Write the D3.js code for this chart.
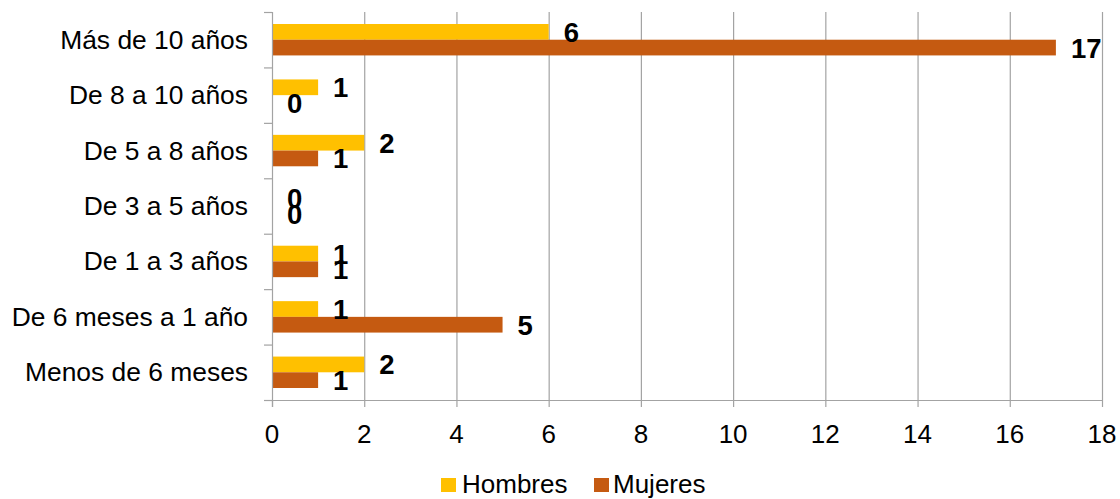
<!DOCTYPE html>
<html>
<head>
<meta charset="utf-8">
<script src="https://cdn.jsdelivr.net/npm/d3@7"></script>
<style>
  html, body { margin: 0; padding: 0; background: #fff; }
  svg { display: block; font-family: "Liberation Sans", Arial, sans-serif; }
</style>
</head>
<body>
<svg id="chart" width="1120" height="499"></svg>
<script>
// Antigüedad por sexo
const categories = [
  "Más de 10 años",
  "De 8 a 10 años",
  "De 5 a 8 años",
  "De 3 a 5 años",
  "De 1 a 3 años",
  "De 6 meses a 1 año",
  "Menos de 6 meses"
];
const hombres = [6, 1, 2, 0, 1, 1, 2];
const mujeres = [17, 0, 1, 0, 1, 5, 1];
const seriesNames = ["Hombres", "Mujeres"];
const seriesColors = ["#FFC000", "#C55A11"];
const xTicks = [0, 2, 4, 6, 8, 10, 12, 14, 16, 18];

const svg = d3.select("#chart");
const plot = { left: 272, right: 1102, top: 12, bottom: 400 };
const gridColor = "#A3A3A3";

const x = d3.scaleLinear().domain([0, 18]).range([plot.left, plot.right]);
const y = d3.scaleBand().domain(categories).range([plot.top, plot.bottom])
  .paddingInner(0.433).paddingOuter(0.2165);
const ySub = d3.scaleBand().domain(seriesNames).range([0, y.bandwidth()]);

// vertical gridlines
svg.append("g").selectAll("line").data(xTicks.slice(1)).join("line")
  .attr("x1", d => x(d) + 0.5).attr("x2", d => x(d) + 0.5)
  .attr("y1", plot.top).attr("y2", plot.bottom)
  .attr("stroke", gridColor).attr("stroke-width", 1.2);

// bars
const rows = categories.map((c, i) => ({ cat: c, vals: [hombres[i], mujeres[i]] }));
const rowG = svg.append("g").selectAll("g").data(rows).join("g")
  .attr("transform", d => `translate(0,${y(d.cat)})`);

rowG.selectAll("rect").data(d => d.vals.map((v, j) => ({ v, s: seriesNames[j], c: seriesColors[j] })))
  .join("rect")
  .attr("x", x(0))
  .attr("y", d => ySub(d.s))
  .attr("width", d => x(d.v) - x(0))
  .attr("height", ySub.bandwidth())
  .attr("fill", d => d.c);

// value labels
rowG.selectAll("text").data(d => d.vals.map((v, j) => ({ v, s: seriesNames[j] })))
  .join("text")
  .attr("x", d => x(d.v) + 15)
  .attr("y", d => ySub(d.s) + ySub.bandwidth() / 2 + 10)
  .attr("font-size", 27.5)
  .attr("font-weight", "bold")
  .attr("fill", "#000")
  .text(d => d.v);

// y axis
const yAxis = svg.append("g");
yAxis.append("line")
  .attr("x1", plot.left + 0.5).attr("x2", plot.left + 0.5)
  .attr("y1", plot.top).attr("y2", plot.bottom + 7)
  .attr("stroke", gridColor).attr("stroke-width", 1.2);
const boundaries = categories.map((c, i) => plot.top + i * y.step()).concat([plot.bottom]);
yAxis.selectAll("line.tick").data(boundaries).join("line")
  .attr("class", "tick")
  .attr("x1", plot.left - 8).attr("x2", plot.left)
  .attr("y1", d => d + 0.5).attr("y2", d => d + 0.5)
  .attr("stroke", gridColor).attr("stroke-width", 1.2);
yAxis.selectAll("text").data(categories).join("text")
  .attr("x", 248)
  .attr("y", d => y(d) + y.bandwidth() / 2 + 9)
  .attr("text-anchor", "end")
  .attr("font-size", 26.4)
  .attr("fill", "#000")
  .text(d => d);

// x axis
const xAxis = svg.append("g");
xAxis.append("line")
  .attr("x1", plot.left - 8).attr("x2", plot.right)
  .attr("y1", plot.bottom + 0.5).attr("y2", plot.bottom + 0.5)
  .attr("stroke", gridColor).attr("stroke-width", 1.2);
xAxis.selectAll("line.tick").data(xTicks).join("line")
  .attr("class", "tick")
  .attr("x1", d => x(d) + 0.5).attr("x2", d => x(d) + 0.5)
  .attr("y1", plot.bottom).attr("y2", plot.bottom + 7)
  .attr("stroke", gridColor).attr("stroke-width", 1.2);
xAxis.selectAll("text").data(xTicks).join("text")
  .attr("x", d => x(d))
  .attr("y", 443)
  .attr("text-anchor", "middle")
  .attr("font-size", 26)
  .attr("fill", "#000")
  .text(d => d);

// legend
const legendItems = [
  { name: seriesNames[0], color: seriesColors[0], sx: 441, tx: 462 },
  { name: seriesNames[1], color: seriesColors[1], sx: 594, tx: 613 }
];
const legend = svg.append("g").selectAll("g").data(legendItems).join("g");
legend.append("rect")
  .attr("x", d => d.sx).attr("y", 478)
  .attr("width", 15).attr("height", 14)
  .attr("fill", d => d.color);
legend.append("text")
  .attr("x", d => d.tx).attr("y", 493)
  .attr("font-size", 26)
  .attr("fill", "#000")
  .text(d => d.name);
</script>
</body>
</html>
